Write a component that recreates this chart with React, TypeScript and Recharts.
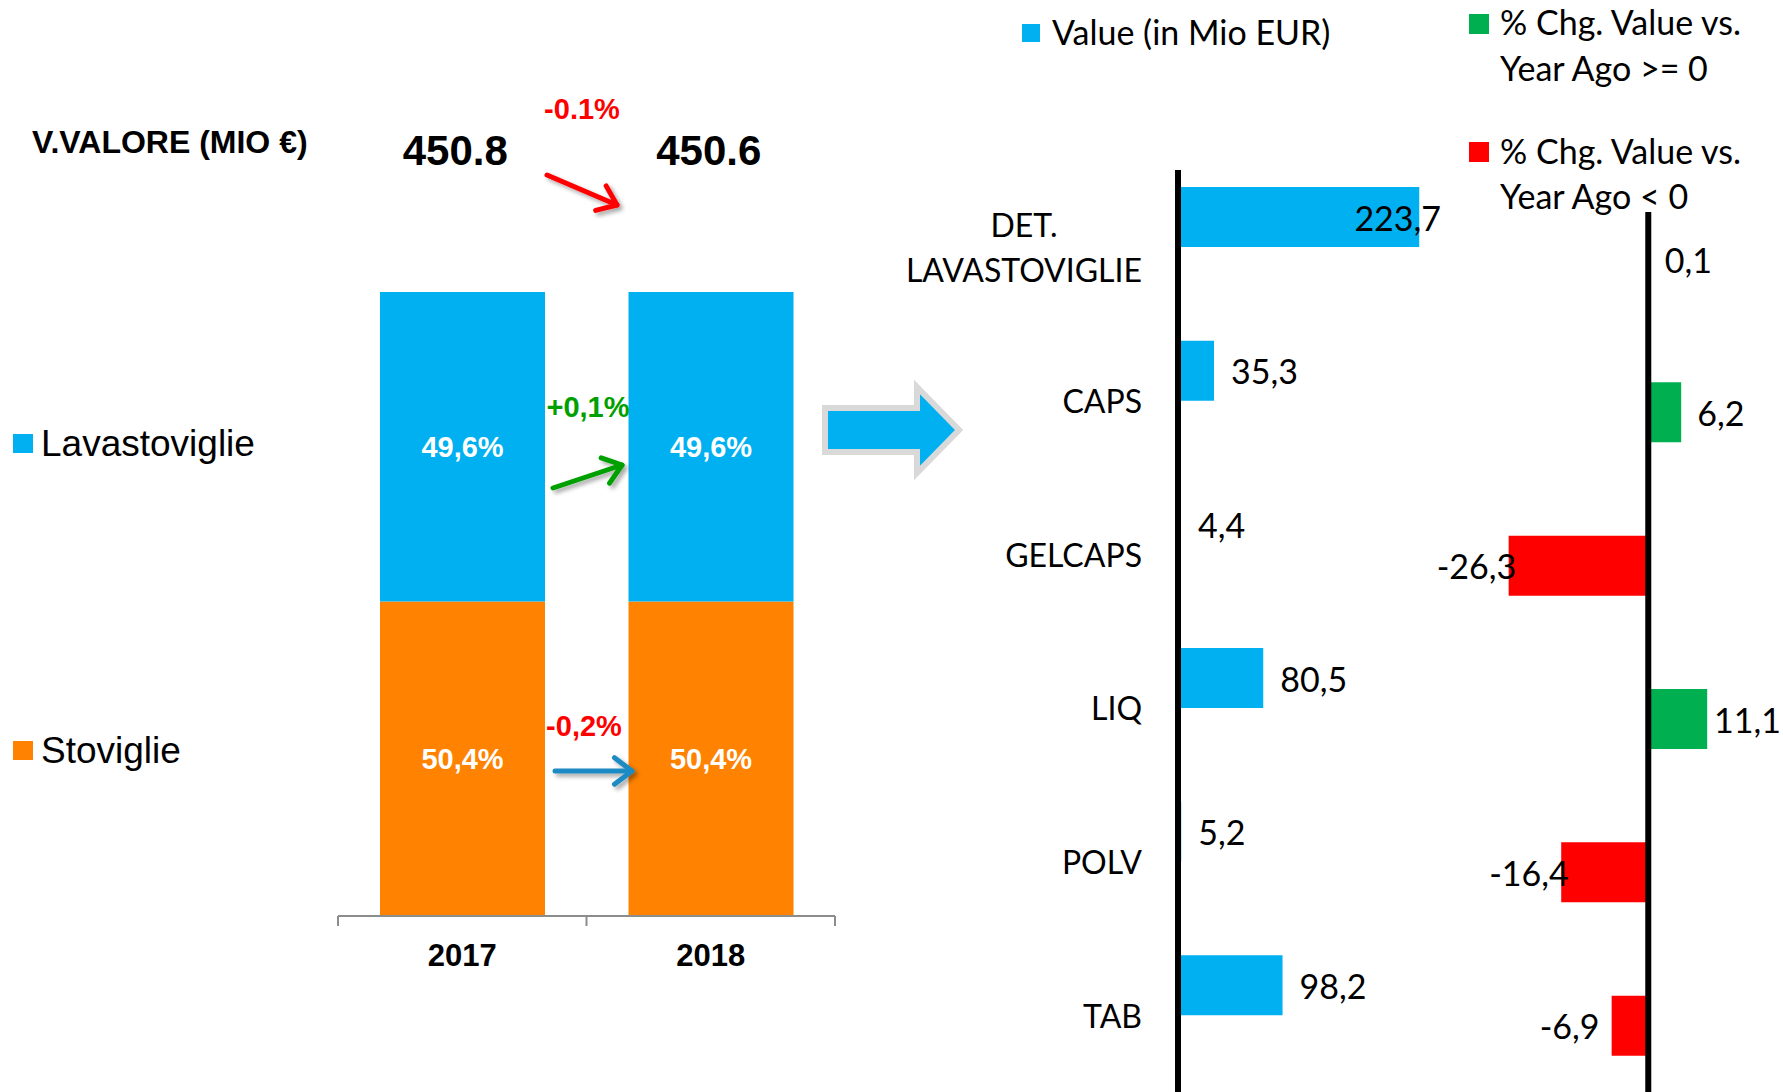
import React from "react";
import { BarChart, Bar, XAxis, YAxis, LabelList, Cell, ReferenceLine } from "recharts";

// left: share of the two segments, 2017 vs 2018
const years = ["2017", "2018"];
const lavastoviglieShare = [49.6, 49.6];
const stoviglieShare = [50.4, 50.4];
const totals = [450.8, 450.6];
const totalChg = -0.1;
const lavaChg = 0.1;
const stovChg = -0.2;

// right: value and % change by segment
const segments = ["DET. LAVASTOVIGLIE", "CAPS", "GELCAPS", "LIQ", "POLV", "TAB"];
const segValues = [223.7, 35.3, 4.4, 80.5, 5.2, 98.2];
const segChg = [0.1, 6.2, -26.3, 11.1, -16.4, -6.9];

const BLUE = "#00b0f0";
const ORANGE = "#ff8200";
const GREEN = "#00b050";
const RED = "#ff0000";
const ARIAL = "'Liberation Sans', Arial, sans-serif";
const CAL = "Lato, 'Open Sans', sans-serif";
const CAL_SIZE = 34;
const CAT_SIZE = 32;

const shareData = years.map((y, i) => ({ year: y, lava: lavastoviglieShare[i], stov: stoviglieShare[i] }));
const valueData = segments.map((s, i) => ({ name: s, value: segValues[i] }));
const chgData = segments.map((s, i) => ({ name: s, chg: segChg[i] }));

const comma = (v: number) => v.toFixed(1).replace(".", ",");

let ctx: CanvasRenderingContext2D | null = null;
function measure(text: string, font: string) {
  if (!ctx) ctx = document.createElement("canvas").getContext("2d");
  if (!ctx) return text.length * 18;
  ctx.font = font;
  return ctx.measureText(text).width;
}

// left chart geometry
const L_LEFT = 338;
const L_RIGHT = 835;
const L_BAND = (L_RIGHT - L_LEFT) / years.length;

const YearTick = (props: any) => {
  const { x, y, payload, index } = props;
  const half = L_BAND / 2;
  return (
    <g>
      <line x1={x - half} x2={x - half} y1={y} y2={y + 10} stroke="#8c8c8c" strokeWidth={2} />
      {index === years.length - 1 && (
        <line x1={x + half} x2={x + half} y1={y} y2={y + 10} stroke="#8c8c8c" strokeWidth={2} />
      )}
      <text x={x} y={y + 50} textAnchor="middle" fontFamily={ARIAL} fontWeight="bold" fontSize={31} fill="#000">
        {payload.value}
      </text>
    </g>
  );
};

const pctLabel = (v: any) => comma(Number(v)) + "%";

// value chart geometry (local to its svg)
const V_W = 640;
const V_PLOT_LEFT = 321;
const V_PLOT_RIGHT = V_PLOT_LEFT + 256;

const SegTick = (props: any) => {
  const { x, y, payload } = props;
  const font = `${CAT_SIZE}px ${CAL}`;
  const words = String(payload.value).split(" ");
  if (words.length === 1) {
    return (
      <text x={x} y={y} textAnchor="end" dominantBaseline="central" fontFamily={CAL} fontSize={CAT_SIZE} fill="#000">
        {payload.value}
      </text>
    );
  }
  const maxW = Math.max(...words.map((w) => measure(w, font)));
  const cx = x - maxW / 2;
  const lh = 45;
  return (
    <g>
      {words.map((w, i) => (
        <text key={i} x={cx} y={y + (i - (words.length - 1) / 2) * lh} textAnchor="middle" dominantBaseline="central"
          fontFamily={CAL} fontSize={CAT_SIZE} fill="#000">
          {w}
        </text>
      ))}
    </g>
  );
};

const ValueLabel = (props: any) => {
  const { x, y, width, height, value } = props;
  if (value == null) return null;
  const text = comma(value);
  const w = measure(text, `${CAL_SIZE}px ${CAL}`);
  let tx = Math.max(x, x + width) + 17;
  if (tx + w > V_PLOT_RIGHT + 4) tx = V_PLOT_RIGHT + 4 - w;
  return (
    <text x={tx} y={y + height / 2} dominantBaseline="central" fontFamily={CAL} fontSize={CAL_SIZE} fill="#000">
      {text}
    </text>
  );
};

const C_W = 363;

const ChgLabel = (props: any) => {
  const { x, y, width, height, value } = props;
  if (value == null) return null;
  const text = comma(value);
  const w = measure(text, `${CAL_SIZE}px ${CAL}`);
  const lo = Math.min(x, x + width);
  const hi = Math.max(x, x + width);
  let tx = value >= 0 ? hi + 16 : lo - 72;
  if (tx + w > C_W - 2) tx = C_W - 2 - w;
  return (
    <text x={tx} y={y + height / 2} dominantBaseline="central" fontFamily={CAL} fontSize={CAL_SIZE} fill="#000">
      {text}
    </text>
  );
};

function Arrow({ x1, y1, x2, y2, color }: { x1: number; y1: number; x2: number; y2: number; color: string }) {
  const a = Math.atan2(y2 - y1, x2 - x1);
  const len = 22;
  const sp = 0.65;
  const ax = x2 - len * Math.cos(a - sp);
  const ay = y2 - len * Math.sin(a - sp);
  const bx = x2 - len * Math.cos(a + sp);
  const by = y2 - len * Math.sin(a + sp);
  return (
    <g filter="url(#shadow)" stroke={color} strokeWidth={5} strokeLinecap="round" strokeLinejoin="round" fill="none">
      <line x1={x1} y1={y1} x2={x2} y2={y2} />
      <polyline points={`${ax},${ay} ${x2},${y2} ${bx},${by}`} />
    </g>
  );
}

export default function App() {
  const bandCenter = (i: number) => L_LEFT + L_BAND * (i + 0.5);
  const fmtSigned = (v: number) => (v > 0 ? "+" : "") + comma(v) + "%";
  const totalX = [bandCenter(0) - 7, bandCenter(1) - 2];
  return (
    <div style={{ position: "absolute", left: 0, top: 0, width: 1783, height: 1092, overflow: "hidden", background: "#fff" }}>
      {/* stacked share chart */}
      <div style={{ position: "absolute", left: 0, top: 0 }}>
        <BarChart width={900} height={1000} data={shareData} margin={{ top: 292, right: 65, bottom: 24, left: L_LEFT }}
          barCategoryGap={(L_BAND - 165) / 2}>
          <XAxis dataKey="year" height={60} axisLine={{ stroke: "#8c8c8c", strokeWidth: 2 }} tickLine={false}
            tickSize={0} tickMargin={0} tick={<YearTick />} interval={0} />
          <YAxis type="number" domain={[0, 100]} hide />
          <Bar dataKey="stov" stackId="s" fill={ORANGE} barSize={165} isAnimationActive={false}>
            <LabelList dataKey="stov" position="center" formatter={pctLabel} fill="#fff" fontFamily={ARIAL}
              fontWeight="bold" fontSize={29} />
          </Bar>
          <Bar dataKey="lava" stackId="s" fill={BLUE} barSize={165} isAnimationActive={false}>
            <LabelList dataKey="lava" position="center" formatter={pctLabel} fill="#fff" fontFamily={ARIAL}
              fontWeight="bold" fontSize={29} />
          </Bar>
        </BarChart>
      </div>

      {/* value by segment */}
      <div style={{ position: "absolute", left: 860, top: 0 }}>
        <BarChart width={V_W} height={1092} data={valueData} layout="vertical" barGap={0}
          margin={{ top: 170, right: V_W - V_PLOT_RIGHT, bottom: 0, left: V_PLOT_LEFT - 200 }}>
          <XAxis type="number" domain={[5, 240]} allowDataOverflow hide />
          <YAxis type="category" dataKey="name" width={200}
            axisLine={{ stroke: "#000", strokeWidth: 6, transform: "translate(-3,0)" }}
            tickLine={false} tickMargin={33} tick={<SegTick />} interval={0} />
          <Bar dataKey="value" fill={BLUE} barSize={60} isAnimationActive={false}>
            <LabelList dataKey="value" content={<ValueLabel />} />
          </Bar>
          <Bar dataKey="spacer" fill="none" barSize={60} isAnimationActive={false} />
        </BarChart>
      </div>

      {/* % change by segment */}
      <div style={{ position: "absolute", left: 1420, top: 0 }}>
        <BarChart width={C_W} height={1140} data={chgData} layout="vertical" barGap={0}
          margin={{ top: 212, right: 2, bottom: 8, left: 69 }}>
          <XAxis type="number" domain={[-30, 25]} allowDataOverflow hide />
          <YAxis type="category" dataKey="name" hide />
          <Bar dataKey="chg" barSize={60} isAnimationActive={false}>
            {chgData.map((d, i) => (
              <Cell key={i} fill={d.chg >= 0 ? GREEN : RED} />
            ))}
            <LabelList dataKey="chg" content={<ChgLabel />} />
          </Bar>
          <Bar dataKey="spacer" fill="none" barSize={60} isAnimationActive={false} />
          <ReferenceLine x={0} stroke="#000" strokeWidth={6} />
        </BarChart>
      </div>

      {/* annotations and legends */}
      <svg width={1783} height={1092} style={{ position: "absolute", left: 0, top: 0, pointerEvents: "none" }}>
        <defs>
          <filter id="shadow" x="-30%" y="-30%" width="160%" height="160%">
            <feDropShadow dx={3} dy={3} stdDeviation={2} floodColor="#000" floodOpacity={0.35} />
          </filter>
        </defs>

        <text x={32} y={153} fontFamily={ARIAL} fontWeight="bold" fontSize={32} fill="#000">V.VALORE (MIO €)</text>
        {totals.map((t, i) => (
          <text key={i} x={totalX[i]} y={165} textAnchor="middle" fontFamily={ARIAL} fontWeight="bold"
            fontSize={42} fill="#000">
            {t.toFixed(1)}
          </text>
        ))}
        <text x={582} y={119} textAnchor="middle" fontFamily={ARIAL} fontWeight="bold" fontSize={29}
          fill={totalChg >= 0 ? "#00a000" : RED}>
          {totalChg.toFixed(1) + "%"}
        </text>
        <Arrow x1={547} y1={175} x2={617} y2={205} color={RED} />

        <text x={588} y={417} textAnchor="middle" fontFamily={ARIAL} fontWeight="bold" fontSize={29}
          fill={lavaChg >= 0 ? "#00a000" : RED}>
          {fmtSigned(lavaChg)}
        </text>
        <Arrow x1={553} y1={488} x2={622} y2={465} color="#00a000" />
        <text x={584} y={736} textAnchor="middle" fontFamily={ARIAL} fontWeight="bold" fontSize={29}
          fill={stovChg >= 0 ? "#00a000" : RED}>
          {fmtSigned(stovChg)}
        </text>
        <Arrow x1={555} y1={771} x2={632} y2={771} color="#1e8bc3" />

        <rect x={13} y={434} width={20} height={19} fill={BLUE} />
        <text x={41} y={456} fontFamily={ARIAL} fontSize={37} fill="#000">Lavastoviglie</text>
        <rect x={13} y={741} width={20} height={19} fill={ORANGE} />
        <text x={41} y={763} fontFamily={ARIAL} fontSize={37} fill="#000">Stoviglie</text>

        {/* big block arrow */}
        <polygon points="825,408 917,408 917,387 959,430 917,473 917,452 825,452" fill={BLUE} stroke="#d9d9d9"
          strokeWidth={6} strokeLinejoin="miter" />

        <rect x={1022} y={24} width={18} height={18} fill={BLUE} />
        <text x={1052} y={45} fontFamily={CAL} fontSize={CAL_SIZE} fill="#000">Value (in Mio EUR)</text>

        <rect x={1469} y={14} width={20} height={20} fill={GREEN} />
        <text x={1500} y={35} fontFamily={CAL} fontSize={CAL_SIZE} fill="#000">% Chg. Value vs.</text>
        <text x={1500} y={81} fontFamily={CAL} fontSize={CAL_SIZE} fill="#000">{"Year Ago >= 0"}</text>

        <rect x={1469} y={142} width={20} height={20} fill={RED} />
        <text x={1500} y={164} fontFamily={CAL} fontSize={CAL_SIZE} fill="#000">% Chg. Value vs.</text>
        <text x={1500} y={209} fontFamily={CAL} fontSize={CAL_SIZE} fill="#000">{"Year Ago < 0"}</text>
      </svg>
    </div>
  );
}
